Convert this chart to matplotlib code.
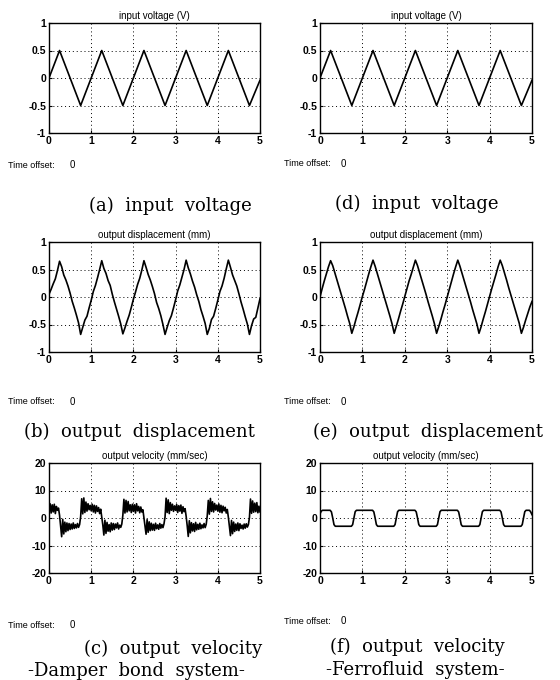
import matplotlib
matplotlib.use("Agg")
import matplotlib.pyplot as plt
import numpy as np

# ---- data ----
# input voltage (a) and (d): triangle wave vertices
t_in = [0.0, 0.25, 0.75, 1.25, 1.75, 2.25, 2.75, 3.25, 3.75, 4.25, 4.75, 5.0]
v_in = [0.0, 0.5, -0.5, 0.5, -0.5, 0.5, -0.5, 0.5, -0.5, 0.5, -0.5, -0.04]

# output displacement, sampled every 0.05 s
t_disp = np.linspace(0, 5, 101)
disp_damper = [
    0.05, 0.14, 0.24, 0.33, 0.48, 0.65, 0.55, 0.40, 0.31, 0.20,
    0.07, -0.08, -0.20, -0.33, -0.47, -0.68, -0.55, -0.42, -0.35, -0.20,
    -0.06, 0.10, 0.21, 0.35, 0.50, 0.66, 0.52, 0.43, 0.30, 0.21,
    0.05, -0.09, -0.22, -0.35, -0.49, -0.67, -0.56, -0.44, -0.33, -0.19,
    -0.04, 0.09, 0.23, 0.34, 0.49, 0.66, 0.54, 0.41, 0.31, 0.19,
    0.06, -0.10, -0.21, -0.34, -0.50, -0.68, -0.55, -0.43, -0.34, -0.20,
    -0.05, 0.11, 0.22, 0.36, 0.50, 0.67, 0.53, 0.42, 0.29, 0.18,
    0.04, -0.08, -0.23, -0.35, -0.48, -0.68, -0.57, -0.41, -0.35, -0.21,
    -0.06, 0.10, 0.20, 0.34, 0.51, 0.67, 0.54, 0.40, 0.30, 0.20,
    0.06, -0.09, -0.22, -0.36, -0.49, -0.68, -0.52, -0.40, -0.37, -0.20,
    -0.03,
]
disp_ferro = [
    0.00, 0.15, 0.29, 0.42, 0.55, 0.66, 0.57, 0.44, 0.31, 0.18,
    0.05, -0.08, -0.21, -0.35, -0.48, -0.66, -0.54, -0.40, -0.27, -0.13,
    0.01, 0.14, 0.28, 0.42, 0.55, 0.67, 0.56, 0.43, 0.30, 0.17,
    0.04, -0.09, -0.22, -0.35, -0.49, -0.66, -0.53, -0.40, -0.26, -0.13,
    0.01, 0.15, 0.29, 0.41, 0.54, 0.67, 0.57, 0.44, 0.31, 0.18,
    0.05, -0.09, -0.22, -0.35, -0.49, -0.66, -0.54, -0.41, -0.27, -0.14,
    0.00, 0.14, 0.28, 0.42, 0.55, 0.67, 0.56, 0.43, 0.30, 0.17,
    0.04, -0.09, -0.23, -0.36, -0.49, -0.66, -0.54, -0.40, -0.27, -0.13,
    0.01, 0.15, 0.28, 0.41, 0.55, 0.67, 0.57, 0.44, 0.31, 0.17,
    0.04, -0.09, -0.22, -0.35, -0.48, -0.66, -0.55, -0.42, -0.30, -0.18,
    -0.08,
]

# output velocity, damper bond system, sampled every 0.025 s
t_vel = np.linspace(0, 5, 201)
vel_damper = [
    3.0, 5.2, 1.8, 4.8, 2.2, 5.0, 1.6, 4.2, 2.8, 3.6,
    1.0, -3.0, -6.8, -0.5, -5.8, -1.5, -5.0, -1.8, -4.6, -2.0,
    -4.2, -2.2, -4.0, -1.8, -3.8, -2.4, -3.6, -2.0, -3.4, -2.4,
    0.5, 7.0, 1.5, 7.3, 2.0, 5.8, 2.5, 5.2, 3.0, 4.6,
    2.6, 5.0, 2.2, 4.6, 1.8, 4.4, 2.4, 3.8, 1.6, 3.2,
    0.2, -2.5, -6.2, -0.8, -5.6, -1.6, -4.8, -2.4, -5.0, -1.8,
    -4.4, -2.0, -4.2, -2.2, -3.6, -1.8, -4.0, -2.6, -3.4, -2.2,
    1.0, 6.8, 1.8, 6.4, 2.2, 6.0, 2.6, 4.8, 2.0, 5.0,
    2.4, 4.8, 1.8, 5.2, 2.6, 4.2, 1.9, 4.0, 2.2, 3.0,
    0.0, -3.2, -5.9, -0.6, -5.2, -1.4, -4.6, -1.9, -4.4, -2.3,
    -4.5, -1.9, -3.9, -2.5, -4.1, -2.0, -3.7, -2.4, -3.5, -2.1,
    0.4, 7.2, 2.0, 6.6, 1.6, 5.6, 2.8, 5.0, 2.4, 4.4,
    2.8, 4.9, 2.0, 4.5, 2.5, 4.7, 1.7, 4.1, 2.3, 3.4,
    0.6, -2.8, -6.7, -1.0, -5.4, -1.7, -4.7, -2.1, -4.9, -1.6,
    -4.3, -2.3, -4.1, -1.9, -3.9, -2.5, -3.6, -2.0, -3.5, -2.3,
    0.8, 6.4, 1.4, 7.1, 2.4, 5.9, 2.2, 5.3, 2.9, 4.7,
    2.5, 5.1, 2.1, 4.6, 1.9, 4.3, 2.6, 3.9, 1.8, 3.1,
    0.3, -3.1, -6.4, -0.9, -5.7, -1.5, -4.9, -2.2, -4.5, -1.8,
    -4.6, -2.1, -3.8, -2.6, -4.0, -2.2, -3.7, -2.1, -3.3, -2.4,
    0.2, 6.9, 1.7, 6.2, 2.1, 5.4, 2.3, 5.6, 1.9, 4.3,
    2.2,
]

# output velocity, ferrofluid system: square-ish wave vertices
t_vf = [
    0.00, 0.03, 0.06, 0.24, 0.27, 0.30, 0.33, 0.36,
    0.74, 0.77, 0.80, 0.83, 0.86, 1.24, 1.27, 1.30, 1.33, 1.36,
    1.74, 1.77, 1.80, 1.83, 1.86, 2.24, 2.27, 2.30, 2.33, 2.36,
    2.74, 2.77, 2.80, 2.83, 2.86, 3.24, 3.27, 3.30, 3.33, 3.36,
    3.74, 3.77, 3.80, 3.83, 3.86, 4.24, 4.27, 4.30, 4.33, 4.36,
    4.74, 4.77, 4.80, 4.83, 4.86, 4.94, 4.97, 5.00,
]
vel_ferro = [
    1.5, 2.5, 2.8, 2.8, 2.2, 0.0, -2.4, -3.0,
    -3.0, -2.4, 0.0, 2.3, 2.8, 2.8, 2.2, 0.0, -2.4, -3.0,
    -3.0, -2.4, 0.0, 2.3, 2.8, 2.8, 2.2, 0.0, -2.4, -3.0,
    -3.0, -2.4, 0.0, 2.3, 2.8, 2.8, 2.2, 0.0, -2.4, -3.0,
    -3.0, -2.4, 0.0, 2.3, 2.8, 2.8, 2.2, 0.0, -2.4, -3.0,
    -3.0, -2.4, 0.0, 2.3, 2.8, 2.8, 2.2, 1.2,
]

x_ticks = [0, 1, 2, 3, 4, 5]
x_labels = ["0", "1", "2", "3", "4", "5"]
y_ticks_small = [-1, -0.5, 0, 0.5, 1]
y_labels_small = ["-1", "-0.5", "0", "0.5", "1"]
y_ticks_vel = [-20, -10, 0, 10, 20]
y_labels_vel = ["-20", "-10", "0", "10", "20"]

titles = ["input voltage (V)", "output displacement (mm)", "output velocity (mm/sec)"]
captions_left = ["(a)  input  voltage", "(b)  output  displacement", "(c)  output  velocity"]
captions_right = ["(d)  input  voltage", "(e)  output  displacement", "(f)  output  velocity"]

# ---- figure ----
W, H = 560, 680
fig = plt.figure(figsize=(W / 100, H / 100), dpi=100)
fig.patch.set_facecolor("white")

tick_font = ["Liberation Sans Narrow", "Liberation Sans", "DejaVu Sans"]
cap_font = ["DejaVu Serif"]

col_left = [49, 320]
col_w = [211, 212]
row_top = [23, 242, 463]
ax_h = 110


def px_axes(x0, top, w, h):
    return fig.add_axes([x0 / W, (H - top - h) / H, w / W, h / H])


series = [
    [(t_in, v_in), (t_in, v_in)],
    [(t_disp, disp_damper), (t_disp, disp_ferro)],
    [(t_vel, vel_damper), (t_vf, vel_ferro)],
]

for r in range(3):
    for c in range(2):
        ax = px_axes(col_left[c], row_top[r], col_w[c], ax_h)
        tx, ty = series[r][c]
        ax.plot(tx, ty, color="black", linewidth=1.2)
        ax.set_xlim(0, 5)
        ax.set_xticks(x_ticks)
        ax.set_xticklabels(x_labels)
        if r < 2:
            ax.set_ylim(-1, 1)
            ax.set_yticks(y_ticks_small)
            ax.set_yticklabels(y_labels_small)
        else:
            ax.set_ylim(-20, 20)
            ax.set_yticks(y_ticks_vel)
            ax.set_yticklabels(y_labels_vel)
        ax.grid(True, color="black", linestyle=(0, (1, 3)), linewidth=0.7)
        ax.tick_params(direction="in", length=2.5, width=0.8, labelsize=7.5, pad=2)
        for lab in ax.get_xticklabels() + ax.get_yticklabels():
            lab.set_fontweight("bold")
            lab.set_family(tick_font)
        for s in ax.spines.values():
            s.set_linewidth(1.0)
        ax.set_title(titles[r], fontsize=7, family=tick_font, pad=3)

# "Time offset" notes
offset_pos = [(8, 165, 70), (284, 164, 341), (8, 402, 70), (284, 402, 341),
              (8, 625, 70), (284, 621, 341)]
for x, y, x0 in offset_pos:
    fig.text(x / W, 1 - y / H, "Time offset:", fontsize=6.5, family=tick_font,
             va="center", ha="left")
    fig.text(x0 / W, 1 - y / H, "0", fontsize=7, family=tick_font,
             va="center", ha="left")

# captions
cap_pos_left = [(170, 211), (139, 437), (173, 654)]
cap_pos_right = [(417, 209), (428, 437), (417, 652)]
for i in range(3):
    x, y = cap_pos_left[i]
    fig.text(x / W, 1 - y / H, captions_left[i], fontsize=13, family=cap_font,
             ha="center", va="baseline")
    x, y = cap_pos_right[i]
    fig.text(x / W, 1 - y / H, captions_right[i], fontsize=13, family=cap_font,
             ha="center", va="baseline")

fig.text(136 / W, 1 - 676 / H, "-Damper  bond  system-", fontsize=13, family=cap_font,
         ha="center", va="baseline")
fig.text(415 / W, 1 - 675 / H, "-Ferrofluid  system-", fontsize=13, family=cap_font,
         ha="center", va="baseline")

fig.savefig("out.png", dpi=100)
